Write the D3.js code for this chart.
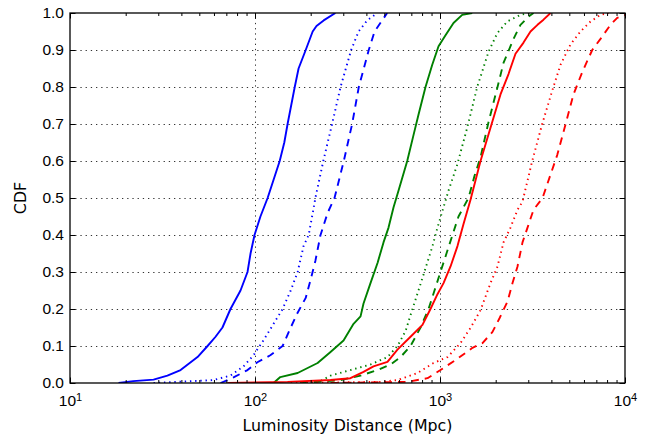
<!DOCTYPE html>
<html>
<head>
<meta charset="utf-8">
<script src="https://cdn.jsdelivr.net/npm/d3@7"></script>
<style>
  html, body { margin: 0; padding: 0; background: #fff; }
  svg { display: block; font-family: "DejaVu Sans", sans-serif; }
</style>
</head>
<body>
<div id="chart"></div>
<script>
// CDF: luminosity distance (Mpc) vs cumulative fraction
const blueSolidDist = [18.3, 22.0, 28.3, 33.6, 39.6, 48.9, 55.4, 61.2, 66.7, 73.7, 83.5, 91.1, 94.6, 99.4, 107, 117, 136, 144, 150, 164, 172, 188, 205, 215, 235, 272];
const blueSolidCdf  = [0, 0.005, 0.009, 0.02, 0.035, 0.07, 0.1, 0.125, 0.15, 0.2, 0.25, 0.3, 0.35, 0.4, 0.45, 0.5, 0.6, 0.65, 0.7, 0.8, 0.85, 0.9, 0.95, 0.965, 0.98, 1.0];

const blueDotDist = [28.3, 59.7, 73.7, 86.7, 98.1, 111, 126, 141, 156, 170, 183, 195, 207, 212, 234, 261, 290, 331, 363, 404, 458];
const blueDotCdf  = [0, 0.008, 0.02, 0.045, 0.075, 0.115, 0.16, 0.2, 0.25, 0.3, 0.37, 0.4, 0.47, 0.5, 0.6, 0.7, 0.8, 0.9, 0.95, 0.98, 1.0];

const blueDashDist = [65.1, 76.5, 91.1, 103, 121, 141, 156, 170, 188, 200, 212, 226, 247, 269, 302, 335, 364, 412, 443, 487, 518];
const blueDashCdf  = [0, 0.015, 0.035, 0.056, 0.075, 0.1, 0.15, 0.19, 0.23, 0.28, 0.33, 0.4, 0.46, 0.5, 0.6, 0.7, 0.8, 0.9, 0.95, 0.98, 1.0];

const greenSolidDist = [126, 137, 170, 218, 256, 301, 341, 372, 386, 421, 460, 495, 527, 561, 597, 665, 719, 765, 835, 908, 982, 1071, 1183, 1318, 1493];
const greenSolidCdf  = [0, 0.016, 0.027, 0.054, 0.084, 0.115, 0.16, 0.18, 0.215, 0.27, 0.325, 0.38, 0.42, 0.475, 0.52, 0.6, 0.67, 0.725, 0.8, 0.86, 0.91, 0.94, 0.973, 0.995, 1.0];

const greenDotDist = [176, 226, 256, 328, 421, 520, 589, 651, 710, 765, 835, 911, 969, 1045, 1112, 1239, 1403, 1589, 1829, 2038, 2308, 2723, 3085];
const greenDotCdf  = [0, 0.005, 0.02, 0.035, 0.05, 0.07, 0.1, 0.14, 0.2, 0.25, 0.31, 0.37, 0.42, 0.475, 0.52, 0.59, 0.69, 0.8, 0.895, 0.945, 0.977, 0.995, 1.0];

const greenDashDist = [176, 290, 372, 460, 540, 612, 693, 785, 867, 934, 1006, 1084, 1168, 1259, 1426, 1537, 1656, 1829, 2046, 2204, 2497, 2723, 3009, 3202];
const greenDashCdf  = [0, 0.008, 0.02, 0.035, 0.05, 0.07, 0.1, 0.15, 0.2, 0.25, 0.3, 0.35, 0.4, 0.45, 0.5, 0.56, 0.61, 0.705, 0.8, 0.865, 0.93, 0.968, 0.99, 1.0];

const redSolidDist = [71.0, 150, 256, 328, 386, 437, 520, 589, 693, 804, 888, 969, 1045, 1140, 1243, 1340, 1462, 1656, 1875, 2123, 2346, 2559, 2828, 3085, 3365, 3627, 3957];
const redSolidCdf  = [0, 0.003, 0.008, 0.013, 0.03, 0.045, 0.057, 0.09, 0.125, 0.157, 0.2, 0.24, 0.27, 0.315, 0.37, 0.43, 0.495, 0.6, 0.69, 0.78, 0.835, 0.89, 0.92, 0.95, 0.968, 0.982, 1.0];

const redDotDist = [156, 477, 589, 756, 922, 1098, 1291, 1462, 1656, 1875, 2046, 2204, 2405, 2624, 2792, 3151, 3568, 4042, 4482, 5075, 5747, 6510, 7372, 8145];
const redDotCdf  = [0, 0.003, 0.008, 0.027, 0.054, 0.07, 0.108, 0.149, 0.197, 0.27, 0.315, 0.38, 0.42, 0.468, 0.49, 0.6, 0.7, 0.79, 0.86, 0.915, 0.95, 0.977, 0.995, 1.0];

const redDashDist = [256, 667, 856, 1006, 1213, 1498, 1697, 1922, 2097, 2317, 2466, 2624, 2792, 2972, 3202, 3582, 4301, 4871, 5268, 5870, 6650, 7372, 8349, 9075, 10060, 12130];
const redDashCdf  = [0, 0.003, 0.013, 0.035, 0.062, 0.095, 0.108, 0.138, 0.175, 0.22, 0.27, 0.315, 0.38, 0.42, 0.468, 0.5, 0.616, 0.716, 0.78, 0.84, 0.9, 0.93, 0.968, 0.987, 0.995, 1.0];

const xMajorTicks = [10, 100, 1000, 10000];
const xGridTicks = [100, 1000];
const yTicks = [0, 0.1, 0.2, 0.3, 0.4, 0.5, 0.6, 0.7, 0.8, 0.9, 1.0];
const yGridTicks = [0.1, 0.2, 0.3, 0.4, 0.5, 0.6, 0.7, 0.8, 0.9];

const DASH = { solid: null, dotted: "1.4,3.8", dashed: "7.5,6" };

const series = [
  { dist: blueSolidDist, cdf: blueSolidCdf, color: "#0000ff", dash: DASH.solid },
  { dist: blueDotDist, cdf: blueDotCdf, color: "#0000ff", dash: DASH.dotted },
  { dist: blueDashDist, cdf: blueDashCdf, color: "#0000ff", dash: DASH.dashed },
  { dist: greenSolidDist, cdf: greenSolidCdf, color: "#008000", dash: DASH.solid },
  { dist: greenDotDist, cdf: greenDotCdf, color: "#008000", dash: DASH.dotted },
  { dist: greenDashDist, cdf: greenDashCdf, color: "#008000", dash: DASH.dashed },
  { dist: redSolidDist, cdf: redSolidCdf, color: "#ff0000", dash: DASH.solid },
  { dist: redDotDist, cdf: redDotCdf, color: "#ff0000", dash: DASH.dotted },
  { dist: redDashDist, cdf: redDashCdf, color: "#ff0000", dash: DASH.dashed },
];

const W = 649, H = 434;
const margin = { top: 13, right: 24, bottom: 51, left: 70 };
const w = W - margin.left - margin.right;
const h = H - margin.top - margin.bottom;

const svg = d3.select("#chart").append("svg").attr("width", W).attr("height", H);
const g = svg.append("g").attr("transform", `translate(${margin.left},${margin.top})`);

const x = d3.scaleLog().domain([10, 10000]).range([0, w]);
const y = d3.scaleLinear().domain([0, 1]).range([h, 0]);

const minorTicks = x.ticks().filter(v => !xMajorTicks.includes(v));

svg.append("defs").append("clipPath").attr("id", "plot-clip")
  .append("rect").attr("width", w).attr("height", h);

// grid
g.append("g").attr("transform", `translate(0,${h})`)
  .call(d3.axisBottom(x).tickValues(xGridTicks).tickSize(-h).tickFormat(""))
  .call(s => s.select(".domain").remove())
  .call(s => s.selectAll(".tick line").attr("stroke", "#000").attr("stroke-width", 0.8).attr("stroke-dasharray", "1.3,3.9"));
g.append("g")
  .call(d3.axisLeft(y).tickValues(yGridTicks).tickSize(-w).tickFormat(""))
  .call(s => s.select(".domain").remove())
  .call(s => s.selectAll(".tick line").attr("stroke", "#000").attr("stroke-width", 0.8).attr("stroke-dasharray", "1.3,3.9"));

// curves
const line = d3.line().x(d => x(d[0])).y(d => y(d[1]));
const curves = g.append("g").attr("clip-path", "url(#plot-clip)");
series.forEach(s => {
  curves.append("path")
    .datum(s.dist.map((d, i) => [d, s.cdf[i]]))
    .attr("fill", "none")
    .attr("stroke", s.color)
    .attr("stroke-width", 1.9)
    .attr("stroke-linejoin", "round")
    .attr("stroke-dasharray", s.dash)
    .attr("d", line);
});

// axes with inward ticks
function styleTicks(sel) {
  sel.select(".domain").remove();
  sel.selectAll(".tick line").attr("stroke", "#000").attr("stroke-width", 1);
  sel.selectAll(".tick text").attr("fill", "#000").attr("font-size", 15);
}

const xBottom = g.append("g").attr("transform", `translate(0,${h})`)
  .call(d3.axisBottom(x).tickValues(xMajorTicks).tickSize(-5.5).tickPadding(12).tickFormat(""))
  .call(styleTicks);
xBottom.selectAll(".tick text").each(function(d) {
  const t = d3.select(this).attr("font-size", 15.5);
  t.append("tspan").text("10");
  t.append("tspan").attr("font-size", 11).attr("dy", "-0.45em").text(Math.round(Math.log10(d)));
});
g.append("g").attr("transform", `translate(0,${h})`)
  .call(d3.axisBottom(x).tickValues(minorTicks).tickSize(-3).tickFormat(""))
  .call(styleTicks);
g.append("g")
  .call(d3.axisTop(x).tickValues(xMajorTicks).tickSize(-5.5).tickFormat(""))
  .call(styleTicks);
g.append("g")
  .call(d3.axisTop(x).tickValues(minorTicks).tickSize(-3).tickFormat(""))
  .call(styleTicks);

g.append("g")
  .call(d3.axisLeft(y).tickValues(yTicks).tickSize(-5.5).tickPadding(6).tickFormat(d3.format(".1f")))
  .call(styleTicks)
  .call(s => s.selectAll(".tick text").attr("font-size", 15.5));
g.append("g").attr("transform", `translate(${w},0)`)
  .call(d3.axisRight(y).tickValues(yTicks).tickSize(-5.5).tickFormat(""))
  .call(styleTicks);

// frame
g.append("rect").attr("width", w).attr("height", h)
  .attr("fill", "none").attr("stroke", "#000").attr("stroke-width", 1.3);

// labels
svg.append("text")
  .attr("x", margin.left + w / 2).attr("y", 430.5)
  .attr("text-anchor", "middle").attr("font-size", 15.8).attr("fill", "#000")
  .text("Luminosity Distance (Mpc)");
svg.append("text")
  .attr("transform", `translate(26,${margin.top + h / 2}) rotate(-90)`)
  .attr("text-anchor", "middle").attr("font-size", 15.8).attr("fill", "#000")
  .text("CDF");
</script>
</body>
</html>
